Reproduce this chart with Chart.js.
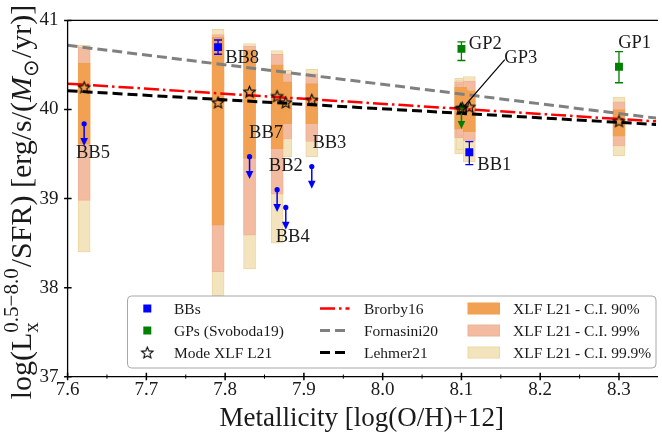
<!DOCTYPE html>
<html>
<head>
<meta charset="utf-8">
<script src="https://cdn.jsdelivr.net/npm/chart.js@4.4.0/dist/chart.umd.min.js"></script>
<style>
  html, body { margin: 0; padding: 0; background: #fff; }
  #wrap { width: 662px; height: 438px; }
</style>
</head>
<body>
<div id="wrap"><canvas id="chart" width="662" height="438"></canvas></div>
<script>
// --- XLF L21 confidence intervals per source ---
const SOURCES  = ['BB5', 'BB8', 'BB7', 'BB2', 'BB4', 'BB3', 'GP2', 'GP3', 'BB1', 'GP1'];
const SRC_Z    = [7.621, 7.791, 7.831, 7.866, 7.877, 7.910, 8.099, 8.101, 8.110, 8.300];
const CI90_LO  = [39.61, 38.70, 39.45, 39.56, 39.84, 39.84, 39.78, 39.80, 39.75, 39.70];
const CI90_HI  = [40.52, 40.81, 40.67, 40.50, 40.31, 40.29, 40.25, 40.22, 40.21, 40.00];
const CI99_LO  = [38.98, 38.18, 38.59, 39.05, 39.67, 39.64, 39.68, 39.70, 39.65, 39.59];
const CI99_HI  = [40.70, 40.84, 40.71, 40.62, 40.40, 40.40, 40.31, 40.28, 40.32, 40.085];
const CI999_LO = [38.40, 37.91, 38.21, 38.50, 39.47, 39.47, 39.50, 39.55, 39.41, 39.48];
const CI999_HI = [40.72, 40.90, 40.74, 40.66, 40.44, 40.45, 40.35, 40.33, 40.37, 40.14];
const MODE     = [40.25, 40.08, 40.20, 40.15, 40.08, 40.11, 40.01, 40.02, 40.03, 39.87];

// --- BB measurements ---
const BB_DET_Z = [7.791, 8.110];
const BB_DET_Y = [40.70, 39.52];
const BB_ERR_LO = [0.08, 0.14];
const BB_ERR_HI = [0.08, 0.12];
const BB_UL_Z = [7.621, 7.831, 7.866, 7.877, 7.910];
const BB_UL_Y = [39.84, 39.47, 39.10, 38.90, 39.36];

// --- GP measurements (Svoboda19) ---
const GP_DET_Z = [8.100, 8.300];
const GP_DET_Y = [40.68, 40.48];
const GP_ERR_LO = [0.13, 0.18];
const GP_ERR_HI = [0.08, 0.17];
const GP_UL_Z = [8.100];
const GP_UL_Y = [40.03];
const UL_LEN = 0.25;

// --- scaling relations ---
const REL_Z = [7.6, 8.35];
const BRORBY16 = [40.29, 39.865];
const FORNASINI20 = [40.72, 39.90];
const LEHMER21 = [40.21, 39.83];

// --- axes ---
const X_TICKS = [7.6, 7.7, 7.8, 7.9, 8.0, 8.1, 8.2, 8.3];
const X_MINOR = [7.65, 7.75, 7.85, 7.95, 8.05, 8.15, 8.25];
const Y_TICKS = [37, 38, 39, 40, 41];

// --- text annotations (data coords, left / middle) ---
const LABELS = ['BB5', 'BB8', 'BB7', 'BB2', 'BB3', 'BB4', 'GP2', 'GP3', 'GP1', 'BB1'];
const LABEL_Z = [7.6106, 7.800, 7.8304, 7.8555, 7.9108, 7.8643, 8.1093, 8.1545, 8.299, 8.1202];
const LABEL_Y = [39.511, 40.574, 39.731, 39.369, 39.621, 38.564, 40.738, 40.574, 40.749, 39.380];
const GP3_LEADER_Z = [8.155, 8.103];
const GP3_LEADER_Y = [40.56, 40.03];

const SERIF = '"Liberation Serif", "Times New Roman", serif';
const TXT = '#1a1a1a';
const C_ORANGE = '#f2a052', C_ORANGE_E = '#efa050';
const C_PINK = '#f3bba0', C_PINK_E = '#efb398';
const C_YEL = '#f4e4bd', C_YEL_E = '#ecd7a2';
const BLUE = '#0000ff', GREEN = '#008000';

function pts(xs, ys) { return xs.map((x, i) => ({ x, y: ys[i] })); }

// hollow 5-point star used as point style
function makeStar(r, lw) {
  const c = document.createElement('canvas');
  const s = Math.ceil(2 * r + 2 * lw + 2);
  c.width = s; c.height = s;
  const g = c.getContext('2d');
  g.translate(s / 2, s / 2 + r * 0.1);
  g.beginPath();
  for (let k = 0; k < 10; k++) {
    const rad = k % 2 ? r * 0.45 : r;
    const a = -Math.PI / 2 + k * Math.PI / 5;
    g.lineTo(rad * Math.cos(a), rad * Math.sin(a));
  }
  g.closePath();
  g.lineWidth = lw; g.strokeStyle = '#000'; g.lineJoin = 'miter';
  g.stroke();
  return c;
}
const STAR = makeStar(6, 1.1);

function ciSet(lo, hi, fill, edge, order) {
  return {
    type: 'bar', role: 'ci',
    data: SRC_Z.map((z, i) => ({ x: z, y: [lo[i], hi[i]] })),
    backgroundColor: fill, borderColor: edge, borderWidth: 1, borderSkipped: false,
    barThickness: 12, stack: 'ci', order,
  };
}
function relSet(ys, color, dash, width, order) {
  return {
    type: 'line', data: pts(REL_Z, ys), borderColor: color, borderWidth: width,
    borderDash: dash, pointRadius: 0, fill: false, order,
  };
}
function markSet(xs, ys, style, radius, color, order, role) {
  return {
    type: 'line', role, data: pts(xs, ys), showLine: false,
    pointStyle: style, pointRadius: radius, pointBackgroundColor: color,
    pointBorderColor: color, pointBorderWidth: 0, order,
  };
}

const datasets = [
  ciSet(CI999_LO, CI999_HI, C_YEL, C_YEL_E, 20),
  ciSet(CI99_LO, CI99_HI, C_PINK, C_PINK_E, 19),
  ciSet(CI90_LO, CI90_HI, C_ORANGE, C_ORANGE_E, 18),
  relSet(FORNASINI20, '#808080', [10, 5], 3, 12),
  relSet(BRORBY16, '#ff0000', [15, 4, 2.5, 4], 2.5, 11),
  relSet(LEHMER21, '#000000', [10, 5], 3, 10),
  markSet(BB_UL_Z.concat(GP_UL_Z), BB_UL_Y.concat(GP_UL_Y), 'circle', 2.6,
    BB_UL_Z.map(() => BLUE).concat(GP_UL_Z.map(() => GREEN)), 5, 'ul'),
  markSet(BB_DET_Z, BB_DET_Y, 'rect', 5.6, BLUE, 4, 'bb'),
  markSet(GP_DET_Z, GP_DET_Y, 'rect', 5.6, GREEN, 3, 'gp'),
  markSet(SRC_Z, MODE, STAR, 6, '#000', 1, 'mode'),
];

// --- error bars and upper-limit arrows ---
function errBar(ctx, xs, ys, z, y, lo, hi, color) {
  const px = xs.getPixelForValue(z);
  const top = ys.getPixelForValue(y + hi), bot = ys.getPixelForValue(y - lo);
  ctx.strokeStyle = color; ctx.lineWidth = 1.3; ctx.setLineDash([]);
  ctx.beginPath();
  ctx.moveTo(px, top); ctx.lineTo(px, bot);
  ctx.moveTo(px - 4, top); ctx.lineTo(px + 4, top);
  ctx.moveTo(px - 4, bot); ctx.lineTo(px + 4, bot);
  ctx.stroke();
}
function upperLimit(ctx, xs, ys, z, y, color) {
  const px = xs.getPixelForValue(z);
  const top = ys.getPixelForValue(y), tip = ys.getPixelForValue(y - UL_LEN);
  ctx.strokeStyle = color; ctx.fillStyle = color; ctx.lineWidth = 1.5; ctx.setLineDash([]);
  ctx.beginPath(); ctx.moveTo(px, top); ctx.lineTo(px, tip - 6); ctx.stroke();
  ctx.beginPath();
  ctx.moveTo(px - 3.8, tip - 8); ctx.lineTo(px + 3.8, tip - 8); ctx.lineTo(px, tip);
  ctx.closePath(); ctx.fill();
}

function drawYTitle(ctx) {
  const size = 30, ss = 21;
  const main = size + 'px ' + SERIF, ital = 'italic ' + size + 'px ' + SERIF, scr = ss + 'px ' + SERIF;
  const parts = [
    { text: 'log(L', font: main },
    { sub: 'x', sup: '0.5\u22128.0' },
    { text: '/SFR) [erg/s/(', font: main },
    { text: 'M', font: ital },
    { sub: '\u2299' },
    { text: '/yr)]', font: main },
  ];
  let total = 0;
  parts.forEach(p => {
    if (p.text) { ctx.font = p.font; p.w = ctx.measureText(p.text).width; }
    else {
      ctx.font = scr;
      p.w = Math.max(ctx.measureText(p.sub || '').width, ctx.measureText(p.sup || '').width) + 1;
    }
    total += p.w;
  });
  ctx.save();
  ctx.translate(31, 202);
  ctx.rotate(-Math.PI / 2);
  ctx.fillStyle = TXT; ctx.textAlign = 'left'; ctx.textBaseline = 'alphabetic';
  let x = -total / 2;
  parts.forEach(p => {
    if (p.text) { ctx.font = p.font; ctx.fillText(p.text, x, 0); }
    else {
      ctx.font = scr;
      if (p.sub) ctx.fillText(p.sub, x, size * 0.22);
      if (p.sup) ctx.fillText(p.sup, x, -size * 0.45);
    }
    x += p.w;
  });
  ctx.restore();
}

function drawLegend(ctx) {
  const bx = 127.5, by = 296, bw = 528.5, bh = 72;
  ctx.save();
  ctx.beginPath();
  ctx.roundRect(bx, by, bw, bh, 4);
  ctx.fillStyle = 'rgba(255,255,255,0.85)'; ctx.fill();
  ctx.strokeStyle = '#a8a8a8'; ctx.lineWidth = 1; ctx.stroke();

  const rows = [308.5, 330.5, 352.5];
  ctx.font = '15.5px ' + SERIF; ctx.fillStyle = TXT;
  ctx.textAlign = 'left'; ctx.textBaseline = 'middle';
  // column 1 - markers
  ctx.fillStyle = BLUE; ctx.fillRect(143.3, rows[0] - 4, 8, 8);
  ctx.fillStyle = GREEN; ctx.fillRect(143.3, rows[1] - 4, 8, 8);
  ctx.drawImage(STAR, 147.3 - STAR.width / 2, rows[2] - STAR.height / 2);
  ctx.fillStyle = TXT;
  ['BBs', 'GPs (Svoboda19)', 'Mode XLF L21'].forEach((t, i) => ctx.fillText(t, 174, rows[i] + 1));
  // column 2 - relations
  const lines = [['#ff0000', [15, 4, 2.5, 4], 2.5], ['#808080', [10, 5], 3], ['#000000', [10, 5], 3]];
  lines.forEach((l, i) => {
    ctx.strokeStyle = l[0]; ctx.setLineDash(l[1]); ctx.lineWidth = l[2];
    ctx.beginPath(); ctx.moveTo(320, rows[i]); ctx.lineTo(349.5, rows[i]); ctx.stroke();
  });
  ctx.setLineDash([]);
  ['Brorby16', 'Fornasini20', 'Lehmer21'].forEach((t, i) => ctx.fillText(t, 364, rows[i] + 1));
  // column 3 - C.I. patches
  [[C_ORANGE, C_ORANGE_E], [C_PINK, C_PINK_E], [C_YEL, C_YEL_E]].forEach((c, i) => {
    ctx.fillStyle = c[0]; ctx.fillRect(468, rows[i] - 5.5, 31.5, 11);
    ctx.strokeStyle = c[1]; ctx.lineWidth = 1; ctx.strokeRect(468, rows[i] - 5.5, 31.5, 11);
  });
  ctx.fillStyle = TXT;
  ['XLF L21 - C.I. 90%', 'XLF L21 - C.I. 99%', 'XLF L21 - C.I. 99.9%']
    .forEach((t, i) => ctx.fillText(t, 513, rows[i] + 1));
  ctx.restore();
}

const decor = {
  id: 'decor',
  beforeDatasetDraw(chart, args) {
    const ds = chart.data.datasets[args.index];
    if (ds.role !== 'ul') return;
    const ctx = chart.ctx, xs = chart.scales.x, ys = chart.scales.y;
    ctx.save();
    BB_DET_Z.forEach((z, i) => errBar(ctx, xs, ys, z, BB_DET_Y[i], BB_ERR_LO[i], BB_ERR_HI[i], BLUE));
    GP_DET_Z.forEach((z, i) => errBar(ctx, xs, ys, z, GP_DET_Y[i], GP_ERR_LO[i], GP_ERR_HI[i], GREEN));
    BB_UL_Z.forEach((z, i) => upperLimit(ctx, xs, ys, z, BB_UL_Y[i], BLUE));
    GP_UL_Z.forEach((z, i) => upperLimit(ctx, xs, ys, z, GP_UL_Y[i], GREEN));
    ctx.restore();
  },
  afterDraw(chart) {
    const ctx = chart.ctx, xs = chart.scales.x, ys = chart.scales.y;
    const a = chart.chartArea;
    ctx.save();
    // spines
    ctx.strokeStyle = '#000'; ctx.lineWidth = 1.3; ctx.setLineDash([]);
    ctx.beginPath();
    ctx.moveTo(a.left, a.top); ctx.lineTo(a.right + 2, a.top);
    ctx.moveTo(a.left, a.top); ctx.lineTo(a.left, a.bottom);
    ctx.moveTo(a.left, a.bottom); ctx.lineTo(a.right + 2, a.bottom);
    ctx.stroke();
    // ticks (crossing the spines)
    ctx.lineWidth = 1.5;
    ctx.beginPath();
    X_TICKS.forEach(v => { const p = xs.getPixelForValue(v); ctx.moveTo(p, a.bottom - 4); ctx.lineTo(p, a.bottom + 3.5); });
    Y_TICKS.forEach(v => { const p = ys.getPixelForValue(v); ctx.moveTo(a.left - 3.5, p); ctx.lineTo(a.left + 4, p); });
    ctx.stroke();
    ctx.lineWidth = 1;
    ctx.beginPath();
    X_MINOR.forEach(v => { const p = xs.getPixelForValue(v); ctx.moveTo(p, a.bottom - 2.2); ctx.lineTo(p, a.bottom + 2); });
    ctx.stroke();
    // GP3 leader line
    ctx.strokeStyle = '#000'; ctx.lineWidth = 1.2;
    ctx.beginPath();
    ctx.moveTo(xs.getPixelForValue(GP3_LEADER_Z[0]), ys.getPixelForValue(GP3_LEADER_Y[0]));
    ctx.lineTo(xs.getPixelForValue(GP3_LEADER_Z[1]), ys.getPixelForValue(GP3_LEADER_Y[1]));
    ctx.stroke();
    // labels
    ctx.font = '18.5px ' + SERIF; ctx.fillStyle = TXT;
    ctx.textAlign = 'left'; ctx.textBaseline = 'middle';
    LABELS.forEach((t, i) => ctx.fillText(t, xs.getPixelForValue(LABEL_Z[i]), ys.getPixelForValue(LABEL_Y[i])));
    drawYTitle(ctx);
    drawLegend(ctx);
    ctx.restore();
  },
};

new Chart(document.getElementById('chart'), {
  type: 'bar',
  data: { datasets },
  plugins: [decor],
  options: {
    responsive: false,
    animation: false,
    devicePixelRatio: 1,
    events: [],
    layout: { padding: { top: 11.6, left: 0, right: 0, bottom: 0 } },
    plugins: { legend: { display: false }, tooltip: { enabled: false } },
    scales: {
      x: {
        type: 'linear', min: 7.6, max: 8.347, offset: false,
        grid: { display: false, drawTicks: false }, border: { display: false },
        afterBuildTicks: s => { s.ticks = X_TICKS.map(v => ({ value: v })); },
        afterFit: s => { s.height = 61.3; },
        ticks: {
          autoSkip: false, maxRotation: 0, padding: 2, color: TXT,
          font: { family: SERIF, size: 19 },
          callback: v => v.toFixed(1),
        },
        title: {
          display: true, text: 'Metallicity [log(O/H)+12]', color: TXT,
          font: { family: SERIF, size: 27 }, padding: { top: 0, bottom: 3 },
        },
      },
      y: {
        type: 'linear', min: 37, max: 41, stacked: false,
        grid: { display: false, drawTicks: false }, border: { display: false },
        afterBuildTicks: s => { s.ticks = Y_TICKS.map(v => ({ value: v })); },
        afterFit: s => { s.width = 67.6; },
        ticks: {
          padding: 9, color: TXT,
          font: { family: SERIF, size: 19 },
          callback: v => String(v),
        },
      },
    },
  },
});
</script>
</body>
</html>
